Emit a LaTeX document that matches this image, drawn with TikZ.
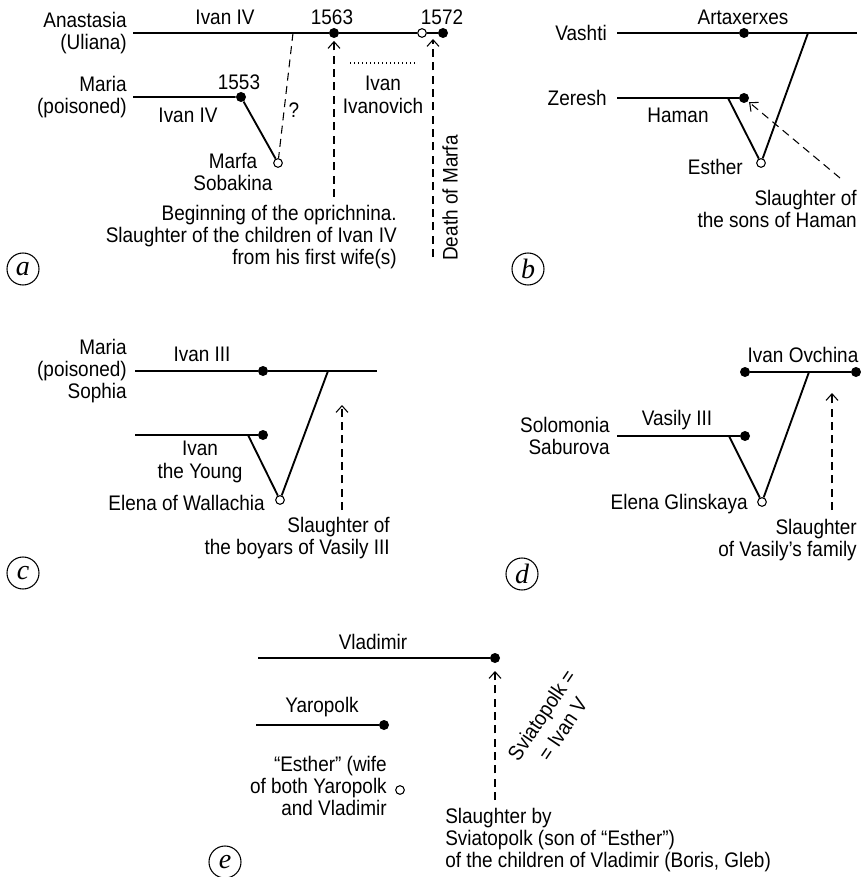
\documentclass[tikz,border=0pt]{standalone}
\usepackage{fontspec}
\setmainfont{Liberation Sans}[FakeStretch=0.9]
\newfontfamily\tagfont{Liberation Serif}
\usetikzlibrary{arrows.meta}
\begin{document}
\begin{tikzpicture}[x=0.75pt,y=-0.75pt,
  every node/.style={font=\fontsize{15.8}{16.8}\selectfont, inner sep=0pt},
  life/.style={line width=1.4pt},
  dot/.style={circle,fill=black,inner sep=0pt,minimum size=7.5pt},
  odot/.style={circle,draw=black,fill=white,line width=0.8pt,inner sep=0pt,minimum size=6.5pt},
  slaughter/.style={dash pattern=on 6pt off 4pt,line width=0.8pt,
     -{Straight Barb[length=5pt,width=9pt,line width=0.8pt]}},
  guess/.style={dash pattern=on 6pt off 4pt,line width=0.8pt},
  tag/.style={circle,draw,line width=0.8pt,minimum size=24pt,inner sep=0pt,
     font=\tagfont\itshape\fontsize{21}{21}\selectfont},
  rlab/.style={anchor=east,align=right},
  clab/.style={align=center}]
\useasboundingbox (0,0) rectangle (860,877);

% ---------------- panel a ----------------
\coordinate (aL) at (133,33);
\node[dot] (a1563) at (334,33) {};
\node[odot] (aO) at (422,33) {};
\node[dot] (a1572) at (443,33) {};
\draw[life] (aL) -- (a1563) -- (aO) -- (a1572);
\coordinate (aML) at (133,97);
\node[dot] (a1553) at (241,97) {};
\node[odot] (aMarfa) at (278,163) {};
\draw[life] (aML) -- (a1553) -- (aMarfa);
\coordinate (aQ) at (293,33);
\draw[guess] (aQ) -- (aMarfa);
\coordinate (aS) at (334,197);
\draw[slaughter,shorten >=2pt] (aS) -- (a1563);
\coordinate (aD1) at (433,257);
\coordinate (aD2) at (433,39);
\draw[slaughter] (aD1) -- (aD2);
\coordinate (aI1) at (350,63);
\coordinate (aI2) at (415,63);
\draw[dotted,line width=1pt] (aI1) -- (aI2);
\node[rlab] (aAna) at (127,33) {Anastasia\\(Uliana)};
\node (aIv1) at (225,17) {Ivan IV};
\node (aY1563) at (332,17) {1563};
\node (aY1572) at (442,17) {1572};
\node[rlab] (aMaria) at (127,97) {Maria\\(poisoned)};
\node (aY1553) at (239,82) {1553};
\node (aIv2) at (188,115) {Ivan IV};
\node (aQm) at (294,110) {?};
\node[clab] (aMarfaT) at (233,172) {Marfa\\Sobakina};
\node[clab] (aIvIv) at (383,95) {Ivan\\Ivanovich};
\node[rlab] (aBeg) at (397,237) {Beginning of the oprichnina.\\Slaughter of the children of Ivan IV\\from his first wife(s)};
\node[rotate=90] (aDeath) at (450,198) {Death of Marfa};
\node[tag] (tagA) at (23,269) {a};

% ---------------- panel b ----------------
\coordinate (bL) at (617,33);
\node[dot] (bA) at (744,33) {};
\coordinate (bR) at (857,33);
\draw[life] (bL) -- (bA) -- (bR);
\coordinate (bZ) at (617,98);
\node[dot] (bH) at (744,98) {};
\draw[life] (bZ) -- (bH);
\coordinate (bV1) at (808,33);
\coordinate (bV2) at (728,98);
\node[odot] (bE) at (761,163) {};
\draw[life] (bV1) -- (bE) -- (bV2);
\coordinate (bS) at (840,178);
\draw[slaughter,shorten >=1pt] (bS) -- (bH);
\node[rlab] (bVashti) at (607,33) {Vashti};
\node (bArt) at (743,17) {Artaxerxes};
\node[rlab] (bZer) at (607,98) {Zeresh};
\node (bHam) at (678,115) {Haman};
\node[rlab] (bEst) at (743,167) {Esther};
\node[rlab] (bSl) at (857,209) {Slaughter of\\the sons of Haman};
\node[tag] (tagB) at (528,269) {b};

% ---------------- panel c ----------------
\coordinate (cL) at (135,371);
\node[dot] (cD) at (263,371) {};
\coordinate (cR) at (377,371);
\draw[life] (cL) -- (cD) -- (cR);
\coordinate (cL2) at (135,435);
\node[dot] (cY) at (263,435) {};
\draw[life] (cL2) -- (cY);
\coordinate (cV1) at (328,371);
\coordinate (cV2) at (248,435);
\node[odot] (cE) at (280,500) {};
\draw[life] (cV1) -- (cE) -- (cV2);
\coordinate (cS1) at (342,510);
\coordinate (cS2) at (342,405);
\draw[slaughter] (cS1) -- (cS2);
\node[rlab] (cMaria) at (127,371) {Maria\\(poisoned)\\Sophia};
\node (cIv3) at (202,354) {Ivan III};
\node[clab] (cIvY) at (200,462) {Ivan\\the Young};
\node[rlab] (cEl) at (265,503) {Elena of Wallachia};
\node[rlab] (cSl) at (390,538) {Slaughter of\\the boyars of Vasily III};
\node[tag] (tagC) at (23,573) {c};

% ---------------- panel d ----------------
\node[dot] (dL) at (745,372) {};
\node[dot] (dR) at (856,372) {};
\draw[life] (dL) -- (dR);
\coordinate (dL2) at (617,436);
\node[dot] (dVa) at (745,436) {};
\draw[life] (dL2) -- (dVa);
\coordinate (dV1) at (809,372);
\coordinate (dV2) at (729,436);
\node[odot] (dE) at (762,502) {};
\draw[life] (dV1) -- (dE) -- (dV2);
\coordinate (dS1) at (832,510);
\coordinate (dS2) at (832,393);
\draw[slaughter] (dS1) -- (dS2);
\node (dOv) at (803,355) {Ivan Ovchina};
\node (dVas) at (677,420) {Vasily III};
\node[rlab] (dSol) at (610,436) {Solomonia\\Saburova};
\node[rlab] (dEl) at (748,504) {Elena Glinskaya};
\node[rlab] (dSl) at (857,540) {Slaughter\\of Vasily’s family};
\node[tag] (tagD) at (522,574) {d};

% ---------------- panel e ----------------
\coordinate (eL) at (258,658);
\node[dot] (eV) at (495,658) {};
\draw[life] (eL) -- (eV);
\coordinate (eL2) at (256,725);
\node[dot] (eY) at (384,725) {};
\draw[life] (eL2) -- (eY);
\node[odot] (eE) at (400,790) {};
\coordinate (eS1) at (495,800);
\coordinate (eS2) at (495,671);
\draw[slaughter] (eS1) -- (eS2);
\node (eVl) at (373,642) {Vladimir};
\node (eYa) at (322,707) {Yaropolk};
\node[rlab] (eEst) at (387,786) {“Esther” (wife\\of both Yaropolk\\and Vladimir};
\node[clab,rotate=56,font=\fontsize{15.8}{19}\selectfont] (eSv) at (552,722) {Sviatopolk =\\= Ivan V};
\node[anchor=west,align=left] (eSl) at (445,840) {Slaughter by\\Sviatopolk (son of “Esther”)\\of the children of Vladimir (Boris, Gleb)};
\node[tag] (tagE) at (225,862) {e};
\end{tikzpicture}
\end{document}
